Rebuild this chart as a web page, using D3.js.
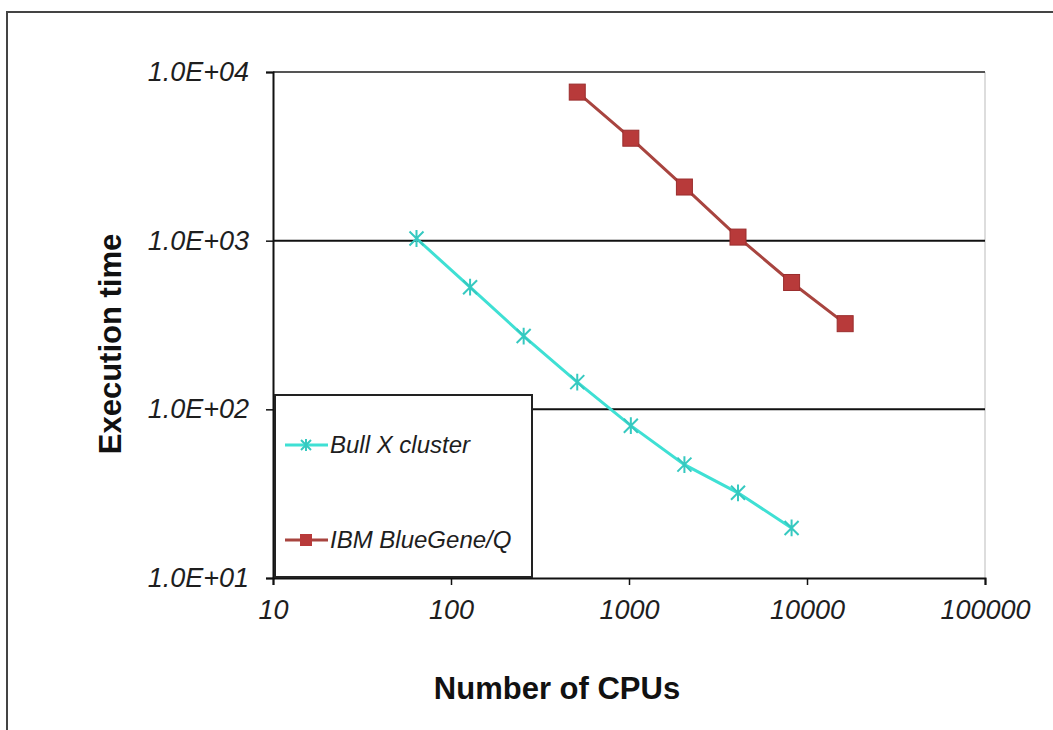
<!DOCTYPE html>
<html>
<head>
<meta charset="UTF-8">
<script src="https://d3js.org/d3.v7.min.js"></script>
<style>
    body { margin: 0; background: #fff; font-family: Arial, "Liberation Sans", sans-serif; }
    .tick-label { font-style: italic; font-size: 27px; fill: #1e1e1e; }
    .axis-title { font-weight: bold; font-size: 31px; fill: #111; }
    .legend-text { font-style: italic; font-size: 24px; fill: #1e1e1e; }
</style>
</head>
<body>
<svg id="chart" width="1053" height="730"></svg>
<script>
    // data
    const bullCpus = [64, 128, 256, 512, 1024, 2048, 4096, 8192];
    const bullTime = [1030, 530, 272, 145, 80, 47, 32, 19.8];
    const ibmCpus = [512, 1024, 2048, 4096, 8192, 16384];
    const ibmTime = [7600, 4050, 2080, 1050, 565, 322];
    const xTicks = [10, 100, 1000, 10000, 100000];
    const yTicks = [10, 100, 1000, 10000];
    const yTickLabels = ["1.0E+01", "1.0E+02", "1.0E+03", "1.0E+04"];
    const seriesNames = ["Bull X cluster", "IBM BlueGene/Q"];

    const svg = d3.select("#chart");

    // outer frame
    svg.append("rect")
        .attr("x", 7).attr("y", 12)
        .attr("width", 1060).attr("height", 740)
        .attr("fill", "#fff")
        .attr("stroke", "#444").attr("stroke-width", 2);

    const pLeft = 273, pRight = 985, pTop = 72, pBottom = 578;
    const x = d3.scaleLog().domain([10, 100000]).range([pLeft, pRight]);
    const y = d3.scaleLog().domain([10, 10000]).range([pBottom, pTop]);

    // plot area right edge
    svg.append("line")
        .attr("x1", pRight).attr("x2", pRight)
        .attr("y1", pTop).attr("y2", pBottom)
        .attr("stroke", "#bbb").attr("stroke-width", 1);

    // gridlines
    svg.selectAll(".grid")
        .data(yTicks.slice(1))
        .enter().append("line")
        .attr("x1", pLeft).attr("x2", pRight)
        .attr("y1", d => y(d)).attr("y2", d => y(d))
        .attr("stroke", d => d === 10000 ? "#555" : "#111")
        .attr("stroke-width", 2);

    // y axis
    const yAxis = svg.append("g")
        .attr("transform", `translate(${pLeft},0)`)
        .call(d3.axisLeft(y).tickValues(yTicks).tickSize(7).tickFormat((d, i) => yTickLabels[i]));
    yAxis.select(".domain").attr("stroke", "#111").attr("stroke-width", 2);
    yAxis.selectAll(".tick line").attr("stroke", "#111").attr("stroke-width", 1.5);
    yAxis.selectAll(".tick text")
        .attr("class", "tick-label")
        .attr("x", -24)
        .style("font-family", "Arial, 'Liberation Sans', sans-serif");

    // x axis
    const xAxis = svg.append("g")
        .attr("transform", `translate(0,${pBottom})`)
        .call(d3.axisBottom(x).tickValues(xTicks).tickSize(7).tickFormat(d3.format("d")));
    xAxis.select(".domain").attr("stroke", "#111").attr("stroke-width", 2);
    xAxis.selectAll(".tick line").attr("stroke", "#111").attr("stroke-width", 1.5);
    xAxis.selectAll(".tick text")
        .attr("class", "tick-label")
        .attr("y", 22)
        .style("font-family", "Arial, 'Liberation Sans', sans-serif");

    // axis titles
    svg.append("text")
        .attr("class", "axis-title")
        .attr("x", 557).attr("y", 699)
        .attr("text-anchor", "middle")
        .text("Number of CPUs");
    svg.append("text")
        .attr("class", "axis-title")
        .attr("transform", "translate(121,344) rotate(-90)")
        .attr("text-anchor", "middle")
        .text("Execution time");

    // legend box (drawn before the series, covers the lower gridline)
    svg.append("rect")
        .attr("x", 275).attr("y", 395)
        .attr("width", 257).attr("height", 182)
        .attr("fill", "#fff")
        .attr("stroke", "#222").attr("stroke-width", 2);

    const bull = bullCpus.map((c, i) => ({ c: c, t: bullTime[i] }));
    const ibm = ibmCpus.map((c, i) => ({ c: c, t: ibmTime[i] }));
    const line = d3.line().x(d => x(d.c)).y(d => y(d.t));

    const cyan = "#3fe0d4", red = "#b83a3a";

    function star(g, cx, cy, s, col) {
        g.append("path")
            .attr("d", `M${cx - s},${cy - s}L${cx + s},${cy + s}M${cx - s},${cy + s}L${cx + s},${cy - s}M${cx},${cy - s * 1.2}L${cx},${cy + s * 1.2}`)
            .attr("stroke", col).attr("stroke-width", 2).attr("fill", "none");
    }

    svg.append("path").datum(bull)
        .attr("d", line)
        .attr("fill", "none").attr("stroke", cyan).attr("stroke-width", 3);
    const bullMarks = svg.append("g");
    bull.forEach(d => star(bullMarks, x(d.c), y(d.t), 7, "#36c9c0"));

    svg.append("path").datum(ibm)
        .attr("d", line)
        .attr("fill", "none").attr("stroke", "#a8443f").attr("stroke-width", 3);
    svg.append("g").selectAll("rect")
        .data(ibm)
        .enter().append("rect")
        .attr("x", d => x(d.c) - 8).attr("y", d => y(d.t) - 8)
        .attr("width", 16).attr("height", 16)
        .attr("fill", red).attr("stroke", "#9a2d2d").attr("stroke-width", 1);

    // legend entries
    const legendY = [445, 540];
    const lg = svg.append("g");
    lg.append("line")
        .attr("x1", 285).attr("x2", 328)
        .attr("y1", legendY[0]).attr("y2", legendY[0])
        .attr("stroke", cyan).attr("stroke-width", 3);
    star(lg, 306, legendY[0], 5, "#36c9c0");
    lg.append("line")
        .attr("x1", 285).attr("x2", 328)
        .attr("y1", legendY[1]).attr("y2", legendY[1])
        .attr("stroke", "#a8443f").attr("stroke-width", 3);
    lg.append("rect")
        .attr("x", 300).attr("y", legendY[1] - 6)
        .attr("width", 12).attr("height", 12)
        .attr("fill", red);
    lg.selectAll("text.legend-text")
        .data(seriesNames)
        .enter().append("text")
        .attr("class", "legend-text")
        .attr("x", 330)
        .attr("y", (d, i) => legendY[i] + 8)
        .text(d => d);
</script>
</body>
</html>
